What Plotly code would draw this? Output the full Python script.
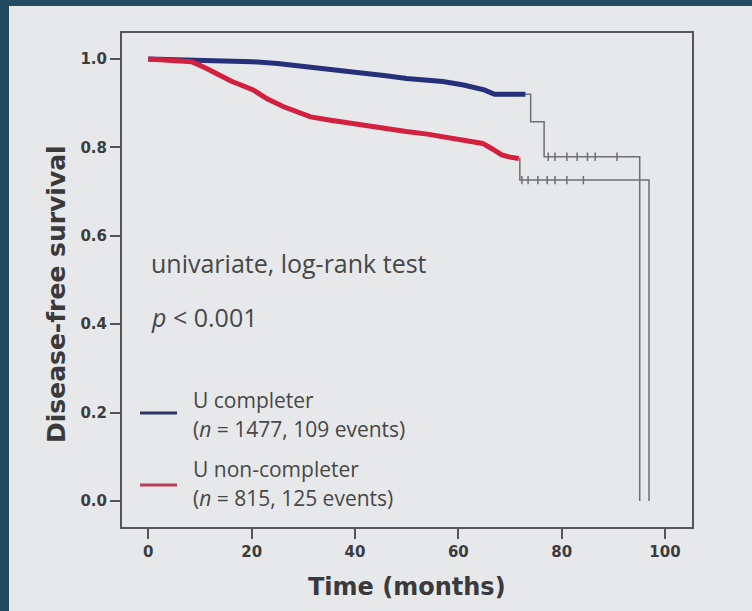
import plotly.graph_objects as go

# ---------------- data ----------------
completer_t = [0, 9, 15, 20, 25, 28, 32, 35, 39, 42, 46, 50, 54, 57, 61, 63, 65, 67, 73]
completer_s = [1.0, 0.998, 0.996, 0.994, 0.990, 0.986, 0.982, 0.979, 0.974, 0.968,
               0.962, 0.956, 0.952, 0.949, 0.941, 0.936, 0.930, 0.920, 0.920]
completer_tail_t = [73, 74.0, 76.6, 95.1]
completer_tail_s = [0.920, 0.858, 0.779, 0.0]
completer_cens_t = [77.4, 78.7, 81.0, 83.0, 85.0, 86.5, 90.7]

noncomp_t = [0, 5, 8.4, 11, 12.9, 16, 20.3, 23, 26.2, 29, 31.4, 35, 38.8, 44, 49.9,
             54, 57.3, 61, 64.7, 66.5, 68.4, 70, 71.7]
noncomp_s = [1.0, 0.998, 0.994, 0.980, 0.968, 0.950, 0.930, 0.910, 0.892, 0.878, 0.869,
             0.862, 0.855, 0.845, 0.836, 0.830, 0.824, 0.817, 0.809, 0.797, 0.783,
             0.778, 0.775]
noncomp_tail_t = [71.7, 71.9, 96.9]
noncomp_tail_s = [0.775, 0.726, 0.0]
noncomp_cens_t = [72.3, 73.5, 75.4, 77.2, 78.7, 81.0, 84.2]

x_ticks = [0, 20, 40, 60, 80, 100]
y_ticks = [0.0, 0.2, 0.4, 0.6, 0.8, 1.0]

legend_labels = ["U completer", "(<i>n</i> = 1477, 109 events)",
                 "U non-completer", "(<i>n</i> = 815, 125 events)"]

# ---------------- styling ----------------
W, H = 752, 611
L, R, T, B = 122, 60, 33, 84
PW, PH = W - L - R, H - T - B
BLUE = "#26307a"
RED = "#d3203f"
TAIL = "#6f6f73"
LIGHT = "#e6e8ea"
DARK = "#224a61"
AX = "#555558"


def px(xp):
    return (xp - L) / PW


def py(yp):
    return (H - B - yp) / PH


fig = go.Figure()

fig.add_trace(go.Scatter(x=completer_t, y=completer_s, mode="lines",
                         line=dict(color=BLUE, width=5), showlegend=False))
fig.add_trace(go.Scatter(x=completer_tail_t, y=completer_tail_s, mode="lines", line_shape="hv",
                         line=dict(color=TAIL, width=1.5), showlegend=False))
fig.add_trace(go.Scatter(x=completer_cens_t, y=[completer_tail_s[2]] * len(completer_cens_t),
                         mode="markers",
                         marker=dict(symbol="line-ns-open", size=6, color=TAIL,
                                     line=dict(color=TAIL, width=1.5)),
                         showlegend=False))

fig.add_trace(go.Scatter(x=noncomp_t, y=noncomp_s, mode="lines",
                         line=dict(color=RED, width=5), showlegend=False))
fig.add_trace(go.Scatter(x=noncomp_tail_t, y=noncomp_tail_s, mode="lines", line_shape="hv",
                         line=dict(color=TAIL, width=1.5), showlegend=False))
fig.add_trace(go.Scatter(x=noncomp_cens_t, y=[noncomp_tail_s[1]] * len(noncomp_cens_t),
                         mode="markers",
                         marker=dict(symbol="line-ns-open", size=6, color=TAIL,
                                     line=dict(color=TAIL, width=1.5)),
                         showlegend=False))

# slide (light panel) on dark background
fig.add_shape(type="rect", xref="paper", yref="paper", layer="below",
              x0=px(9), x1=px(760), y0=py(620), y1=py(6),
              fillcolor=LIGHT, line=dict(width=0))

# legend glyphs
fig.add_shape(type="line", xref="paper", yref="paper", x0=px(140), x1=px(177),
              y0=py(413), y1=py(413), line=dict(color="#2c3566", width=3))
fig.add_shape(type="line", xref="paper", yref="paper", x0=px(140), x1=px(177),
              y0=py(485), y1=py(485), line=dict(color="#b8405a", width=3))

text_font = dict(family="Open Sans", size=25, color="#474747")
leg_font = dict(family="Open Sans", size=21, color="#474747")
anns = [
    dict(text="univariate, log-rank test", x=px(149), y=py(263), font=text_font),
    dict(text="<i>p</i> < 0.001", x=px(149), y=py(317), font=text_font),
    dict(text=legend_labels[0], x=px(191), y=py(400), font=leg_font),
    dict(text=legend_labels[1], x=px(191), y=py(429), font=leg_font),
    dict(text=legend_labels[2], x=px(191), y=py(469), font=leg_font),
    dict(text=legend_labels[3], x=px(191), y=py(498), font=leg_font),
]
for a in anns:
    fig.add_annotation(xref="paper", yref="paper", xanchor="left", yanchor="middle",
                       showarrow=False, **a)

title_font = dict(family="DejaVu Sans", size=24, color="#3a3a3c", weight="bold")
fig.add_annotation(text="Disease-free survival", xref="paper", yref="paper",
                   x=px(57), y=py(294), textangle=-90, showarrow=False,
                   xanchor="center", yanchor="middle",
                   font=dict(family="DejaVu Sans", size=25, color="#3a3a3c", weight="bold"))
fig.add_annotation(text="Time (months)", xref="paper", yref="paper",
                   x=px(407), y=py(587), showarrow=False,
                   xanchor="center", yanchor="middle", font=title_font)

tick_font = dict(family="DejaVu Sans", size=15, color="#3c3c3e", weight="bold")
axis_common = dict(showline=True, mirror=True, linecolor=AX, linewidth=2,
                   ticks="outside", ticklen=10, tickwidth=2, tickcolor=AX,
                   showgrid=False, zeroline=False, tickfont=tick_font)

fig.update_layout(
    width=W, height=H, autosize=False,
    margin=dict(l=L, r=R, t=T, b=B, pad=0),
    paper_bgcolor=DARK, plot_bgcolor=LIGHT,
    xaxis=dict(range=[-5.09, 105.22], tickvals=x_ticks,
               ticktext=[str(v) for v in x_ticks], **axis_common),
    yaxis=dict(range=[-0.0588, 1.0588], tickvals=y_ticks,
               ticktext=[f"{v:.1f}" for v in y_ticks], **axis_common),
)

fig.write_html("out.html")
